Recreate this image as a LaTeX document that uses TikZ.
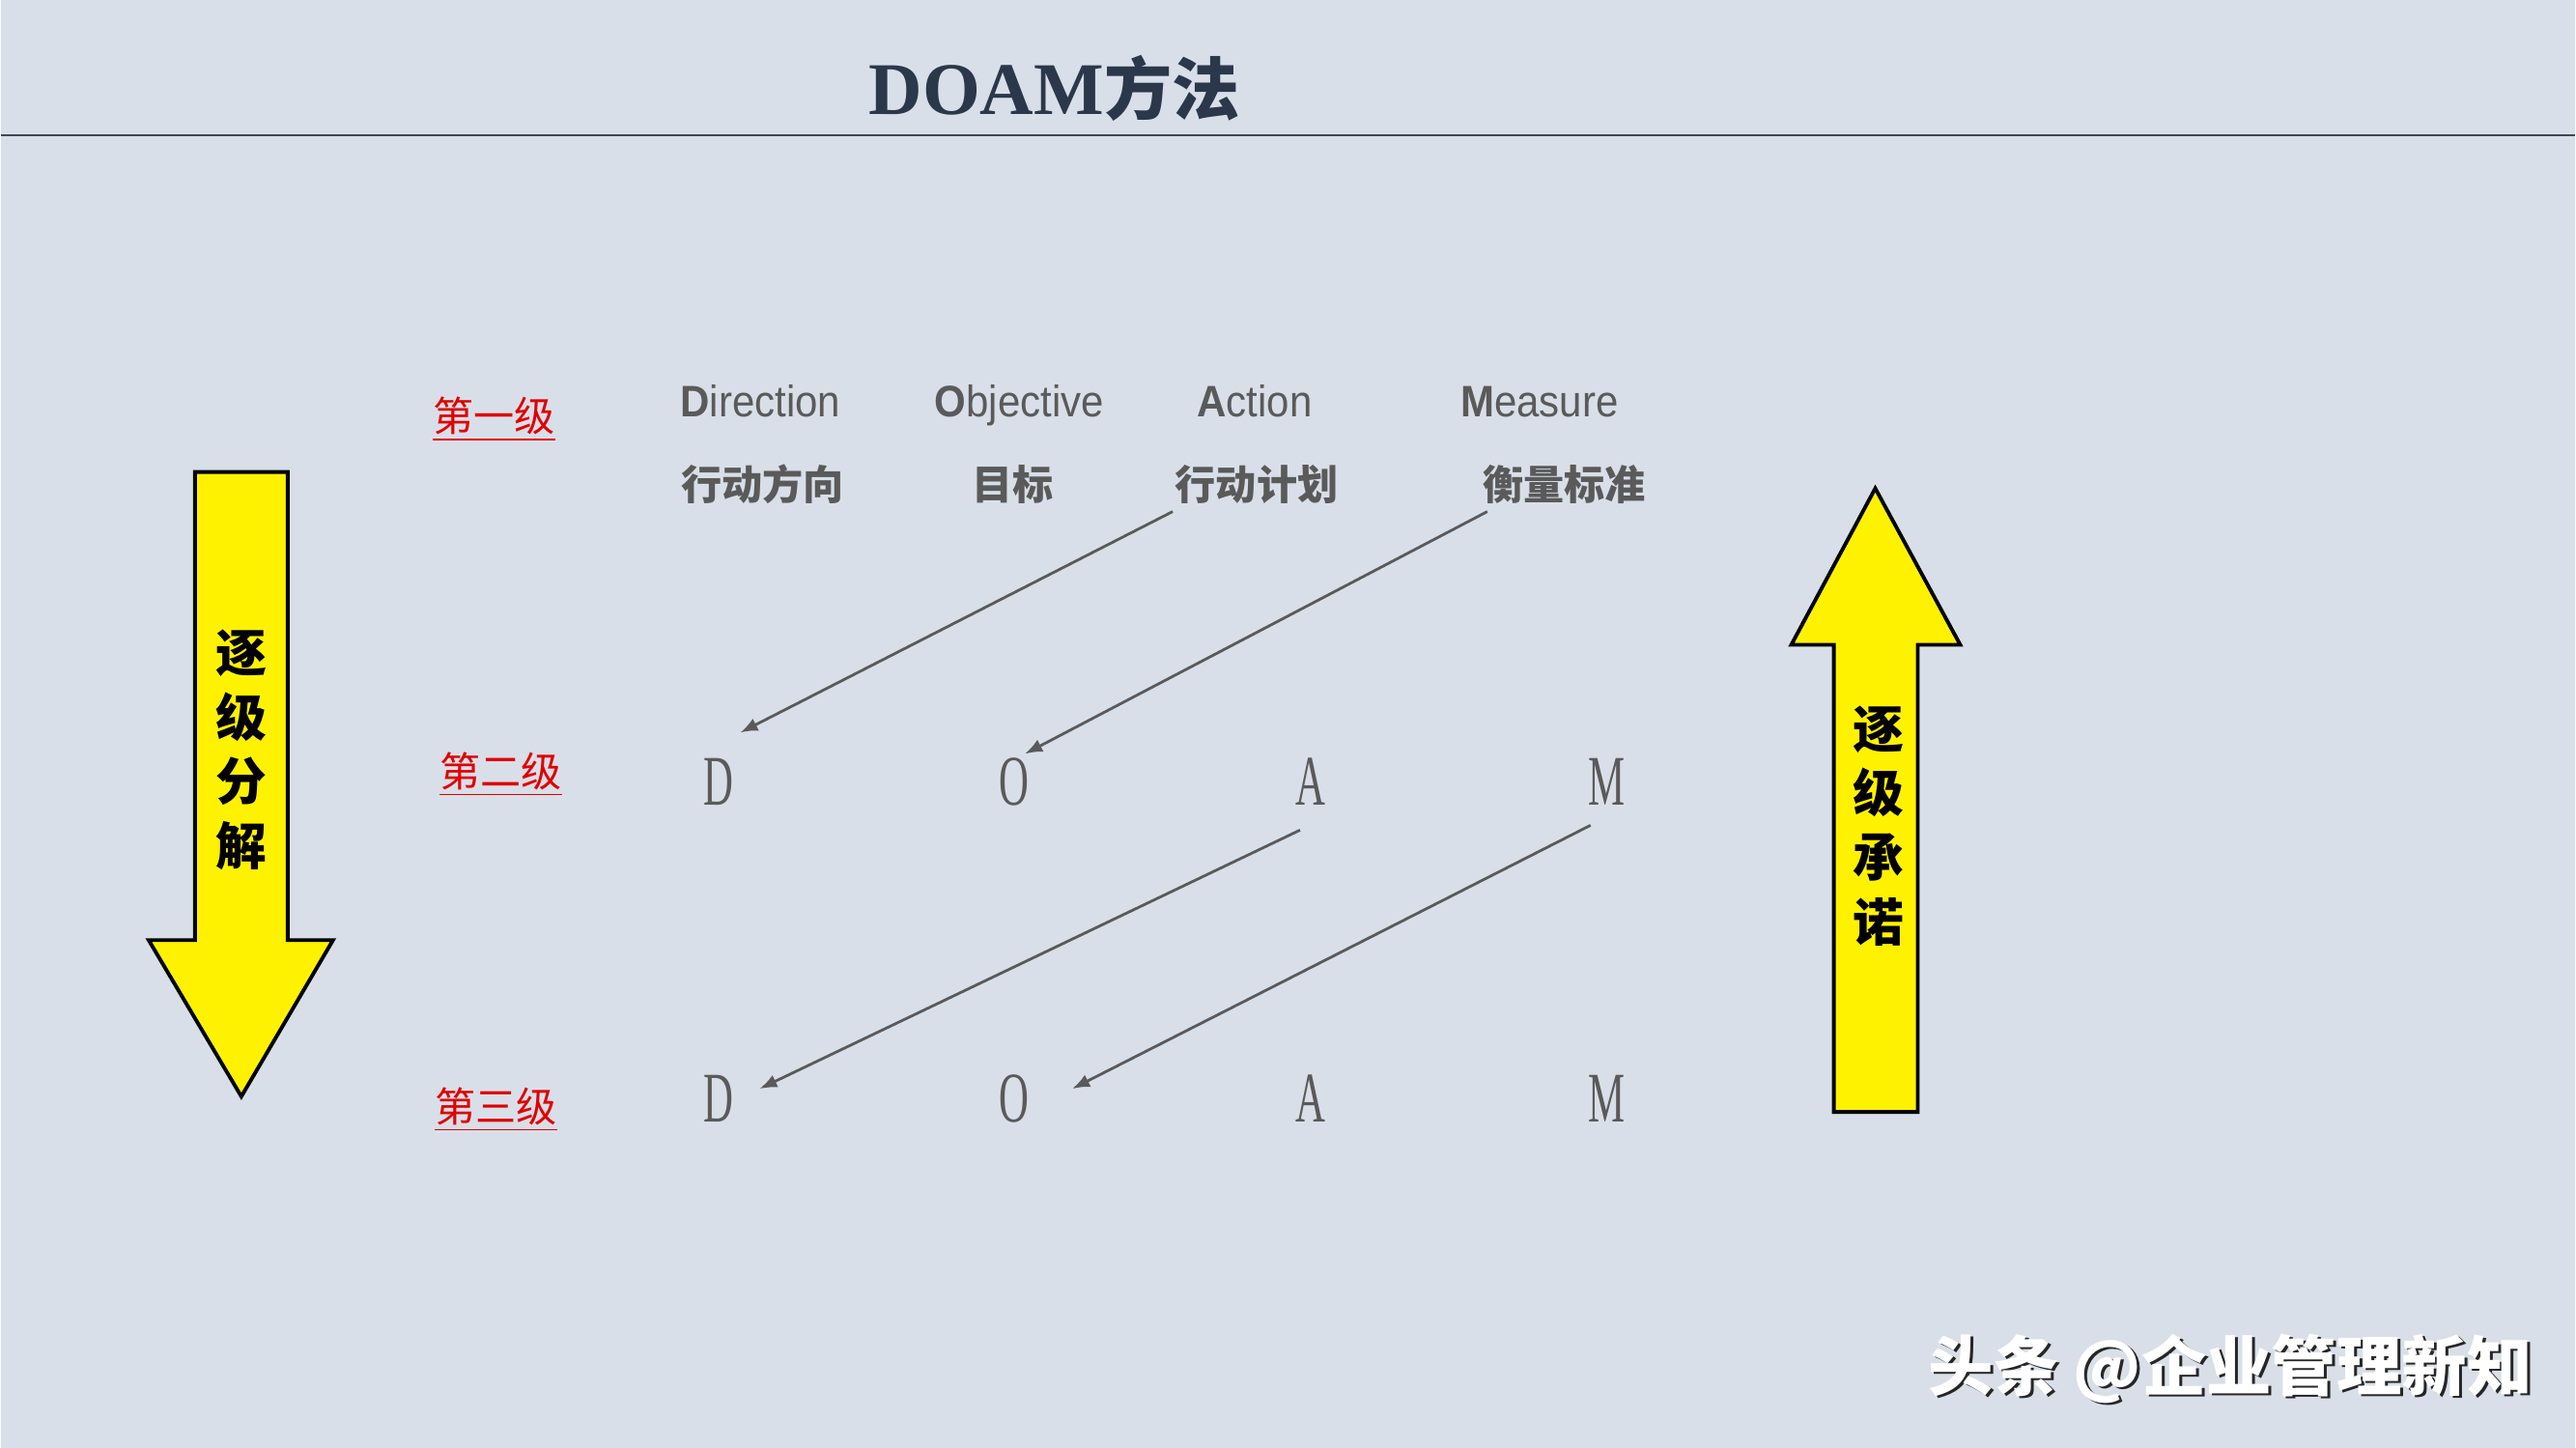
\documentclass[tikz,border=0pt]{standalone}
\usepackage{fontspec}
\setmainfont{Liberation Serif}
\newfontfamily\cjk{Noto Sans CJK SC}
\newfontfamily\headfont[FakeStretch=0.92]{Liberation Sans}
\newfontfamily\letterfont[FakeStretch=0.58]{Liberation Serif}
\usetikzlibrary{arrows.meta}
\definecolor{bg}{HTML}{D9DFE8}
\definecolor{txtgray}{HTML}{5A5A5A}
\definecolor{lvlred}{HTML}{E00000}
\definecolor{titleblue}{HTML}{2B384B}
\definecolor{rulegray}{HTML}{3E4652}

\begin{document}
\begin{tikzpicture}
[line width=0.7pt,
level/.style={font=\cjk\fontsize{12pt}{14pt}\selectfont, text=lvlred, inner sep=0pt, anchor=base},
head/.style={font=\headfont\fontsize{13pt}{15pt}\selectfont, text=txtgray, inner sep=0pt, anchor=base},
meaning/.style={font=\cjk\bfseries\fontsize{12pt}{14pt}\selectfont, text=txtgray, inner sep=0pt},
letter/.style={font=\letterfont\fontsize{21pt}{24pt}\selectfont, text=txtgray, inner sep=0pt},
link/.style={draw=txtgray, line width=0.8pt, -{Latex[length=1.8mm,width=1.4mm]}},
bigarrow/.style={draw=black, fill=yellow, line width=1.1pt, line join=miter},
vtext/.style={font=\cjk\bfseries\fontsize{15pt}{19pt}\selectfont, align=center, inner sep=0pt},
credit/.style={font=\cjk\bfseries\fontsize{19.2pt}{22pt}\selectfont, inner sep=0pt}]

\fill[bg] (0,0) rectangle (26.67,15);
\node[anchor=base west, text=titleblue, inner sep=0pt] (title) at (8.98,13.81)
    {\fontsize{21.9pt}{24pt}\selectfont\bfseries DOAM{\cjk\fontsize{20pt}{24pt}\selectfont 方法}};
\draw[rulegray, line width=0.6pt] (0,13.60) -- (26.67,13.60);

\foreach \n/\t/\x/\y in {1/第一级/5.11/10.53, 2/第二级/5.18/6.85, 3/第三级/5.13/3.38} {
    \node[level] (lv\n) at (\x, \y) {\underline{\t}};
}
\foreach \n/\f/\r/\x in {D/D/irection/7.87, O/O/bjective/10.55, A/A/ction/12.99, M/M/easure/15.94} {
    \node[head] (hd\n) at (\x, 10.68) {\textbf{\f}\r};
}
\foreach \n/\t/\x in {D/行动方向/7.89, O/目标/10.48, A/行动计划/13.01, M/衡量标准/16.20} {
    \node[meaning] (mn\n) at (\x, 9.98) {\t};
}
\foreach \ltr/\x in {D/7.43, O/10.50, A/13.57, M/16.64} {
    \node[letter] (l2x\ltr) at (\x, 6.90) {\ltr};
    \node[letter] (l3x\ltr) at (\x, 3.62) {\ltr};
}

\draw[link] ([shift={(-0.87,-0.28)}]mnA.center) -- ([shift={(0.23,0.51)}]l2xD.center);
\draw[link] ([shift={(-0.80,-0.28)}]mnM.center) -- ([shift={(0.11,0.29)}]l2xO.center);
\draw[link] ([shift={(-0.11,-0.50)}]l2xA.center) -- ([shift={(0.43,0.10)}]l3xD.center);
\draw[link] ([shift={(-0.17,-0.45)}]l2xM.center) -- ([shift={(0.60,0.10)}]l3xO.center);

\draw[bigarrow] (2.01,10.11) -- (2.97,10.11) -- (2.97,5.26) -- (3.44,5.26) -- (2.49,3.64)
    -- (1.53,5.26) -- (2.01,5.26) -- cycle;
\node[vtext] (down) at (2.49,7.23) {逐\\级\\分\\解};
\draw[bigarrow] (19.42,9.94) -- (20.30,8.32) -- (19.86,8.32) -- (19.86,3.48) -- (18.99,3.48)
    -- (18.99,8.32) -- (18.55,8.32) -- cycle;
\node[vtext] (up) at (19.45,6.445) {逐\\级\\承\\诺};

\node[credit, text=black!85] (creditshadow) at (23.13,0.80) {头条 @企业管理新知};
\node[credit, text=white] (credittext) at (23.10,0.82) {头条 @企业管理新知};
\end{tikzpicture}
\end{document}
